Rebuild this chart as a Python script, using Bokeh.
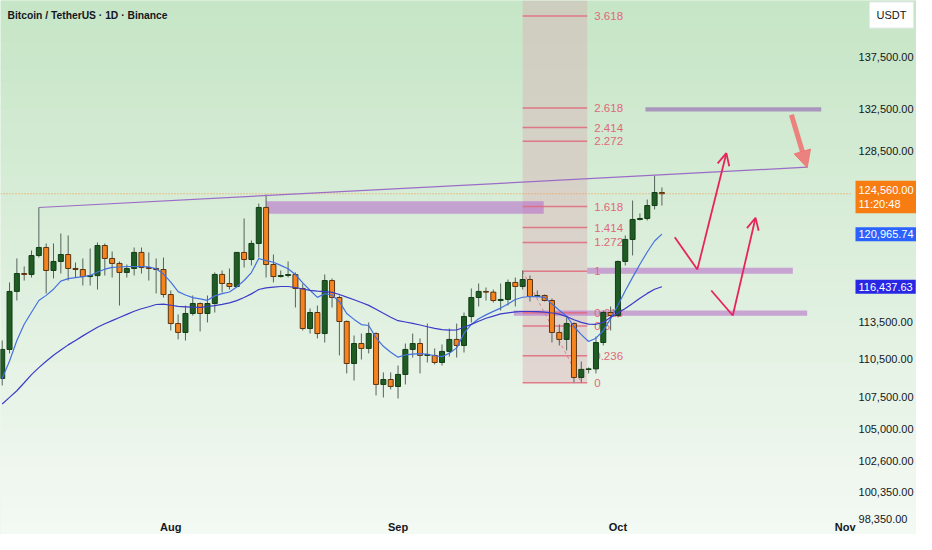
import numpy as np
import pandas as pd
from bokeh.plotting import figure
from bokeh.models import (Range1d, FixedTicker, NumeralTickFormatter, DatetimeTickFormatter,
                          BoxAnnotation, Label, Arrow, OpenHead, NormalHead, ColumnDataSource)
from bokeh.core.properties import value
from bokeh.embed import file_html
from bokeh.resources import INLINE

FONT = "Liberation Sans"

# ---------------- data (BTC/USDT daily) ----------------
dates = pd.date_range("2025-07-09", periods=91, freq="D")
opens = [108940, 111260, 116040, 117560, 117480, 119100, 119800, 117820, 118590, 119190,
         117990, 117900, 117300, 117380, 119970, 118850, 118420, 117650, 117990, 119370,
         118070, 117990, 117900, 115780, 113370, 112640, 114200, 115030, 114200, 115030,
         117480, 116710, 116460, 119370, 118760, 120150, 123330, 118330, 117300, 117390,
         117470, 116290, 112960, 114280, 112550, 116960, 115530, 113540, 110130, 111740,
         111340, 112550, 108470, 108860, 108310, 109260, 111260, 111740, 110780, 110780,
         110210, 111100, 112070, 111580, 113950, 115530, 116040, 115980, 115280, 115370,
         116800, 116460, 117050, 115620, 115700, 115280, 112640, 112070, 113370, 109020,
         109660, 109700, 111820, 114280, 114030, 118590, 120500, 122260, 122345, 123500,
         124670]
highs = [111984, 116800, 118850, 118160, 119540, 123325, 120150, 120150, 121020, 120850,
         118500, 118850, 119710, 120235, 120150, 119450, 118590, 118330, 119800, 119800,
         119370, 118850, 118930, 116120, 114120, 114860, 115700, 115110, 115700, 117650,
         117820, 117990, 119400, 122345, 120410, 123680, 124490, 119190, 117820, 118590,
         117650, 116710, 114610, 114860, 117480, 117140, 115700, 113620, 112390, 112550,
         113460, 112640, 109420, 109420, 109970, 111740, 112550, 112150, 113370, 111340,
         111660, 112960, 113370, 114280, 116290, 116710, 116370, 116200, 116710, 117050,
         117220, 117820, 117390, 116120, 115780, 115450, 113290, 113870, 113460, 110290,
         109810, 112310, 114450, 114780, 118670, 120850, 123950, 122790, 124040, 126220,
         125130]
lows = [108390, 110940, 115280, 116960, 117220, 118930, 115870, 117140, 117560, 116960,
        117220, 116540, 116540, 116200, 117390, 117220, 114860, 117220, 117390, 117560,
        116960, 115870, 115530, 112800, 112070, 111980, 114030, 112720, 113460, 114280,
        115950, 116200, 116370, 118070, 118245, 118930, 117220, 116800, 117220, 117220,
        114700, 112800, 112550, 112150, 111820, 114700, 110780, 109340, 108780, 110450,
        110940, 107610, 107450, 108080, 107370, 108470, 110610, 109340, 110210, 110050,
        109970, 110690, 110610, 111010, 113460, 114780, 115280, 115110, 114450, 114860,
        114780, 116200, 115200, 115530, 115200, 111820, 111580, 111180, 108630, 108630,
        109340, 109340, 111580, 112800, 113870, 118245, 119110, 122170, 122170, 123150,
        123500]
closes = [111260, 116040, 117560, 117480, 119100, 119800, 117820, 118590, 119190, 117990,
          117900, 117300, 117380, 119970, 118850, 118420, 117650, 117990, 119370, 118070,
          117990, 117900, 115780, 113370, 112640, 114200, 115030, 114200, 115030, 117480,
          116710, 116460, 119370, 118760, 120150, 123330, 118330, 117300, 117390, 117470,
          116290, 112960, 114280, 112550, 116960, 115530, 113540, 110130, 111740, 111340,
          112550, 108470, 108860, 108310, 109260, 111260, 111740, 110780, 110860, 110210,
          111100, 112070, 111580, 113950, 115530, 116040, 115980, 115280, 115370, 116800,
          116460, 117050, 115620, 115700, 115280, 112640, 112070, 113370, 109020, 109660,
          109700, 111820, 114280, 114030, 118590, 120500, 122260, 122345, 123500, 124670,
          124560.00]
ma_fast = [108940, 110325, 111984, 113308, 114306, 115281, 115709, 116230, 116913, 117118,
           117203, 117288, 117390, 117689, 117928, 118083, 118117, 118160, 118160, 118160,
           118126, 117963, 117510, 116821, 116028, 115742, 115516, 115415, 115298, 115667,
           115852, 115994, 116424, 116964, 117638, 118847, 118657, 118520, 118254, 117971,
           117476, 116770, 116137, 115542, 115852, 115742, 115181, 114199, 113711, 113284,
           113210, 112196, 111515, 111031, 110638, 110815, 110887, 110919, 110871, 110750,
           110678, 110959, 111386, 112572, 113292, 113761, 114083, 114373, 114647, 114989,
           115365, 115550, 115617, 115600, 115542, 114981, 114464, 113976, 113128, 112457,
           111903, 112172, 112775, 113777, 114889, 116095, 117228, 118348, 119408, 120365,
           120965.74]
ma_slow = [106946, 107459, 107975, 108602, 109242, 109798, 110309, 110791, 111208, 111628,
           111992, 112359, 112710, 113062, 113358, 113612, 113868, 114124, 114381, 114589,
           114756, 114947, 114972, 114881, 114789, 114756, 114723, 114714, 114781, 114856,
           114964, 115081, 115273, 115533, 115835, 116204, 116339, 116407, 116458, 116458,
           116373, 116247, 116128, 116070, 116019, 115961, 115784, 115558, 115340, 115114,
           114872, 114547, 114215, 113893, 113604, 113497, 113390, 113251, 113103, 112972,
           112874, 112833, 112841, 113062, 113300, 113554, 113802, 113984, 114166, 114257,
           114331, 114364, 114364, 114348, 114306, 114240, 114149, 113943, 113678, 113464,
           113325, 113308, 113464, 113885, 114248, 114614, 115031, 115475, 115877, 116221,
           116437.63]
countdown = "11:20:48"

# price-scale ticks and month ticks
price_ticks = [98350, 100350, 102600, 105000, 107500, 110500, 113500, 128500, 132500, 137500]
month_ticks = ["2025-08-01", "2025-09-01", "2025-10-01", "2025-11-01"]

# Fibonacci retracement drawing
fib_anchor_dates = ["2025-09-18", "2025-09-26"]
fib_anchor_prices = [117750, 108600]
fib_right = "2025-09-26 19:30"
fib_levels = [0, 0.236, 0.5, 0.618, 1, 1.272, 1.414, 1.618, 2.272, 2.414, 2.618, 3.618]
fib_texts = ["0", "0.236", "0.5", "0.618", "1", "1.272", "1.414", "1.618", "2.272", "2.414", "2.618", "3.618"]

# horizontal zones
zone_left = ["2025-08-14", "2025-10-04 18:00", "2025-09-26 19:30", "2025-09-16 19:00"]
zone_right = ["2025-09-20 21:00", "2025-10-28 17:30", "2025-10-24 20:40", "2025-10-26 19:40"]
zone_low = [122760, 132220, 117535, 114010]
zone_high = [123890, 132630, 118050, 114450]

# trend line
trend_dates = ["2025-07-14", "2025-10-26 19:40"]
trend_prices = [123325, 126983]

# arrows
arrow1_dates = ["2025-10-08 18:00", "2025-10-11 20:00", "2025-10-15 19:00"]
arrow1_prices = [120700, 117900, 128280]
arrow2_dates = ["2025-10-13 17:30", "2025-10-16 16:00", "2025-10-19 18:30"]
arrow2_prices = [116120, 114030, 122410]
arrow3_dates = ["2025-10-24 16:00", "2025-10-26 19:40"]
arrow3_prices = [131900, 126930]


def ms(s):
    return pd.Timestamp(s).value / 1e6


# ---------------- figure ----------------
x_start = pd.Timestamp("2025-07-08 18:26")
x_end = pd.Timestamp("2025-11-10 17:31")
scale_edge = "2025-11-01 17:31"          # where the price scale begins
time_axis_at = 98275                      # price level where the time scale is drawn
y_lo, y_hi = 97284, 143304

p = figure(width=916, height=534, x_axis_type="datetime", y_axis_type="log",
           y_axis_location="right",
           x_range=Range1d(ms(x_start), ms(x_end)), y_range=Range1d(y_lo, y_hi),
           output_backend="svg", toolbar_location=None,
           min_border_left=0, min_border_top=0, min_border_right=0, min_border_bottom=0)
p.background_fill_color = "#dcefdc"
p.border_fill_color = "#f1f8f1"
p.outline_line_color = None
p.grid.visible = False

# background gradient
n = 40
edges = np.exp(np.linspace(np.log(y_lo), np.log(y_hi), n + 1))
top_rgb = np.array([198, 229, 198])
bot_rgb = np.array([244, 249, 244])
for i in range(n):
    t = (i + 0.5) / n
    c = bot_rgb + (top_rgb - bot_rgb) * t
    col = "#%02x%02x%02x" % tuple(int(round(v)) for v in c)
    p.add_layout(BoxAnnotation(bottom=edges[i] * 0.999, top=edges[i + 1] * 1.001,
                               fill_color=col, fill_alpha=1, line_color=None, level="underlay"))

# fib band
fib_hi, fib_lo = fib_anchor_prices
fib_prices = [fib_lo + lv * (fib_hi - fib_lo) for lv in fib_levels]
p.add_layout(BoxAnnotation(left=ms(fib_anchor_dates[0]), right=ms(fib_right), bottom=fib_lo,
                           fill_color="#dba9b2", fill_alpha=0.38, line_color=None, level="underlay"))

fib_color = "#e0687a"
p.segment(x0=[ms(fib_anchor_dates[0])] * len(fib_prices), x1=[ms(fib_right)] * len(fib_prices),
          y0=fib_prices, y1=fib_prices, line_color=fib_color, line_width=1.5, line_alpha=0.85)
p.text(x=[ms(fib_right)] * len(fib_prices), y=fib_prices, text=fib_texts, x_offset=7,
       text_baseline="middle", text_align="left", text_color=fib_color,
       text_font_size="11.5px", text_font=value(FONT))
p.line(x=[ms(d) for d in fib_anchor_dates], y=fib_anchor_prices, line_color=fib_color,
       line_dash="3 3", line_width=1, line_alpha=0.8)

# zones
zone_colors = ["#b565c9", "#9a72b4", "#b565c9", "#b565c9"]
zone_alphas = [0.55, 0.7, 0.55, 0.55]
for l, r, lo, hi, c, a in zip(zone_left, zone_right, zone_low, zone_high, zone_colors, zone_alphas):
    p.add_layout(BoxAnnotation(left=ms(l), right=ms(r), bottom=lo, top=hi,
                               fill_color=c, fill_alpha=a, line_color=None, level="underlay"))

# last price line
p.line(x=[ms(x_start), ms(scale_edge)], y=[closes[-1], closes[-1]], line_color="#f0963c",
       line_dash="1 2", line_width=1)

# candles
up = [c >= o for o, c in zip(opens, closes)]
src = ColumnDataSource(dict(
    date=[ms(d) for d in dates], open=opens, high=highs, low=lows, close=closes,
    top=[max(o, c) for o, c in zip(opens, closes)],
    bottom=[min(o, c) for o, c in zip(opens, closes)],
    fill=["#1e5c23" if u else "#f5841f" for u in up],
    edge=["#123d16" if u else "#5c3310" for u in up],
))
p.segment(x0="date", y0="low", x1="date", y1="high", line_color="#55635a", line_width=1, source=src)
p.vbar(x="date", width=0.68 * 86400000, top="top", bottom="bottom", fill_color="fill",
       line_color="edge", line_width=1, source=src)

# moving averages
p.line(x=[ms(d) for d in dates], y=ma_fast, line_color="#4470e0", line_width=1.2)
p.line(x=[ms(d) for d in dates], y=ma_slow, line_color="#3b3bc8", line_width=1.2)

# trend line
p.line(x=[ms(d) for d in trend_dates], y=trend_prices, line_color="#9b6dc6", line_width=1.2)

# arrows
red = "#e8245c"
for ad, ap in ((arrow1_dates, arrow1_prices), (arrow2_dates, arrow2_prices)):
    p.line(x=[ms(ad[0]), ms(ad[1])], y=[ap[0], ap[1]], line_color=red, line_width=1.8)
    p.add_layout(Arrow(x_start=ms(ad[1]), y_start=ap[1], x_end=ms(ad[2]), y_end=ap[2],
                       line_color=red, line_width=1.8,
                       end=OpenHead(size=12, line_color=red, line_width=1.8)))
p.add_layout(Arrow(x_start=ms(arrow3_dates[0]), y_start=arrow3_prices[0],
                   x_end=ms(arrow3_dates[1]), y_end=arrow3_prices[1],
                   line_color="#f07070", line_width=5, line_alpha=0.85,
                   end=NormalHead(size=17, fill_color="#f07070", fill_alpha=0.85,
                                  line_color="#f07070", line_alpha=0.85)))

# axes (drawn at fixed locations inside the canvas, like TradingView's scales)
p.yaxis.fixed_location = ms(scale_edge)
p.yaxis.ticker = FixedTicker(ticks=price_ticks)
p.yaxis.formatter = NumeralTickFormatter(format="0,0.00")
p.yaxis.axis_line_color = None
p.yaxis.major_tick_line_color = None
p.yaxis.minor_tick_line_color = None
p.yaxis.major_tick_out = 0
p.yaxis.major_label_standoff = 8
p.yaxis.major_label_text_font_size = "11px"
p.yaxis.major_label_text_color = "#131722"
p.yaxis.major_label_text_font = FONT

p.xaxis.fixed_location = time_axis_at
p.xaxis.ticker = FixedTicker(ticks=[ms(m) for m in month_ticks])
p.xaxis.formatter = DatetimeTickFormatter(days="%b", months="%b", hours="%b", years="%b",
                                          minutes="%b", hourmin="%b", seconds="%b")
p.xaxis.axis_line_color = None
p.xaxis.major_tick_line_color = None
p.xaxis.minor_tick_line_color = None
p.xaxis.major_tick_out = 0
p.xaxis.major_label_standoff = 0
p.xaxis.major_label_text_font_size = "11px"
p.xaxis.major_label_text_font_style = "bold"
p.xaxis.major_label_text_color = "#131722"
p.xaxis.major_label_text_font = FONT

# texts / price labels
p.add_layout(Label(x=7, x_units="screen", y=141754, text="Bitcoin / TetherUS · 1D · Binance",
                   text_font=FONT, text_font_size="10.3px", text_font_style="bold",
                   text_color="#131722", text_baseline="middle"))
p.add_layout(Label(x=869, x_units="screen", y=141805, text="USDT", text_font=FONT,
                   text_font_size="11px", text_color="#131722", text_baseline="middle",
                   background_fill_color="white", border_line_color="#e6e9ee",
                   padding=7))
p.add_layout(Label(x=855, x_units="screen", y=124268,
                   text=f"{closes[-1]:,.2f}\n{countdown}", text_font=FONT,
                   text_font_size="11px", text_color="white", text_baseline="middle",
                   background_fill_color="#f77c11", padding=3))
p.add_layout(Label(x=855, x_units="screen", y=ma_fast[-1], text=f"{ma_fast[-1]:,.2f}",
                   text_font=FONT, text_font_size="11px", text_color="white",
                   text_baseline="middle", background_fill_color="#2962ff", padding=3))
p.add_layout(Label(x=855, x_units="screen", y=ma_slow[-1], text=f"{ma_slow[-1]:,.2f}",
                   text_font=FONT, text_font_size="11px", text_color="white",
                   text_baseline="middle", background_fill_color="#2727e4", padding=3))

open("out.html", "w").write(file_html(p, INLINE))
